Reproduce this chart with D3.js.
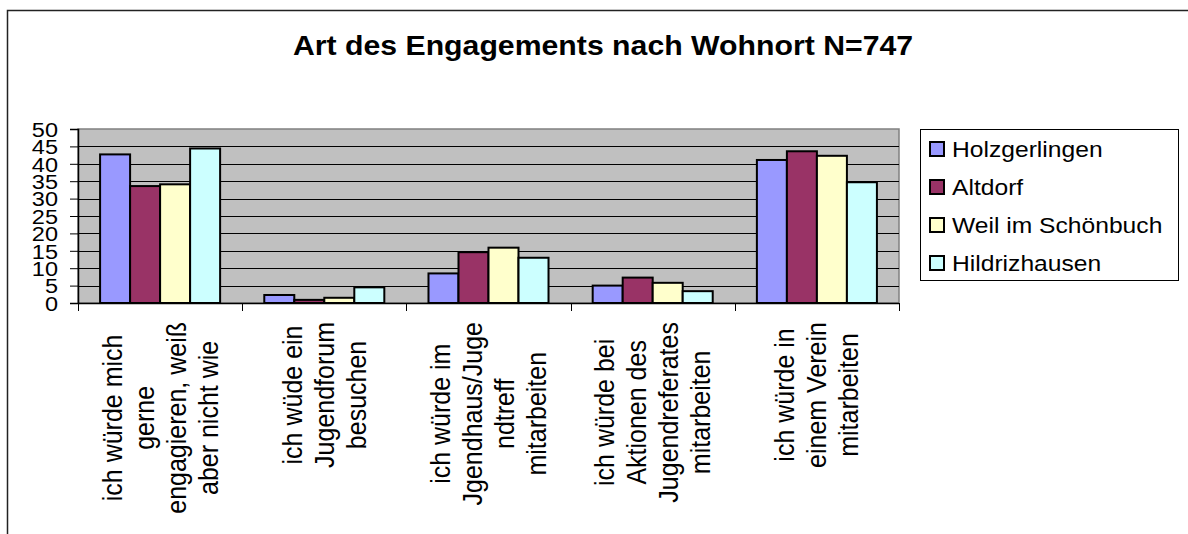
<!DOCTYPE html>
<html>
<head>
<meta charset="utf-8">
<style>
  body { margin: 0; background: #fff; }
  svg text { font-family: "Liberation Sans", Arial, sans-serif; fill: #000; }
</style>
</head>
<body>
<script src="https://d3js.org/d3.v7.min.js"></script>
<script>
  // chart data
  const categories = [
    ["ich würde mich", "gerne", "engagieren, weiß", "aber nicht wie"],
    ["ich wüde ein", "Jugendforum", "besuchen"],
    ["ich würde im", "Jgendhaus/Juge", "ndtreff", "mitarbeiten"],
    ["ich würde bei", "Aktionen des", "Jugendreferates", "mitarbeiten"],
    ["ich würde in", "einem Verein", "mitarbeiten"]
  ];
  const seriesNames = ["Holzgerlingen", "Altdorf", "Weil im Schönbuch", "Hildrizhausen"];
  const holzgerlingen = [42.7, 2.3, 8.5, 5.0, 41.1];
  const altdorf = [33.6, 0.9, 14.6, 7.3, 43.6];
  const weil = [34.1, 1.5, 15.9, 5.8, 42.3];
  const hildrizhausen = [44.4, 4.5, 13.0, 3.4, 34.7];
  const seriesColors = ["#9999ff", "#993366", "#ffffcc", "#ccffff"];
  const yTicks = [0, 5, 10, 15, 20, 25, 30, 35, 40, 45, 50];
  const title = "Art des Engagements nach Wohnort N=747";

  const values = [holzgerlingen, altdorf, weil, hildrizhausen];

  const w = 1188;
  const h = 534;
  const plot = { left: 78, right: 899, top: 129, bottom: 303 };
  const sx = 1.12; // text in the reference is a bit wider than it is tall

  const svg = d3.select("body")
    .append("svg")
    .attr("width", w)
    .attr("height", h);

  // outer chart frame (only top and left edges show)
  svg.append("path")
    .attr("d", "M7.5," + h + "V10.5H" + w)
    .attr("fill", "none")
    .attr("stroke", "#222")
    .attr("stroke-width", 1.5);

  svg.append("text")
    .attr("transform", "translate(603,55) scale(" + sx + ",1)")
    .attr("text-anchor", "middle")
    .style("font-size", "27px")
    .style("font-weight", "bold")
    .text(title);

  const catIdx = d3.range(categories.length);

  const x0 = d3.scaleBand()
    .domain(catIdx)
    .range([plot.left, plot.right])
    .paddingInner(0.269)
    .paddingOuter(0.1345);

  const x1 = d3.scaleBand()
    .domain(d3.range(seriesNames.length))
    .range([0, x0.bandwidth()]);

  const y = d3.scaleLinear()
    .domain([0, 50])
    .range([plot.bottom, plot.top]);

  // plot area
  svg.append("rect")
    .attr("x", plot.left)
    .attr("y", plot.top)
    .attr("width", plot.right - plot.left)
    .attr("height", plot.bottom - plot.top)
    .attr("fill", "#c0c0c0")
    .attr("stroke", "#808080")
    .attr("stroke-width", 1.5);

  svg.append("g")
    .selectAll("line")
    .data(yTicks.filter((d) => d > 0 && d < 50))
    .join("line")
    .attr("x1", plot.left)
    .attr("x2", plot.right)
    .attr("y1", (d) => Math.round(y(d)) + 0.5)
    .attr("y2", (d) => Math.round(y(d)) + 0.5)
    .attr("stroke", "#000");

  // bars
  svg.append("g")
    .selectAll("g")
    .data(values)
    .join("g")
    .attr("fill", (d, i) => seriesColors[i])
    .selectAll("rect")
    .data((d, i) => d.map((v, c) => ({ s: i, c: c, v: v })))
    .join("rect")
    .attr("x", (d) => x0(d.c) + x1(d.s))
    .attr("y", (d) => y(d.v))
    .attr("width", x1.bandwidth())
    .attr("height", (d) => y(0) - y(d.v))
    .attr("stroke", "#000")
    .attr("stroke-width", 2);

  // y axis
  const yAxis = d3.axisLeft(y)
    .tickValues(yTicks)
    .tickSize(8)
    .tickPadding(12);

  const ya = svg.append("g")
    .attr("transform", "translate(" + plot.left + ",0)")
    .call(yAxis);
  ya.select(".domain").attr("stroke", "#000").attr("stroke-width", 1.5);
  ya.selectAll(".tick line").attr("stroke", "#000");
  ya.selectAll(".tick text")
    .attr("x", null)
    .attr("dy", "0.35em")
    .attr("transform", "translate(-20,0) scale(" + sx + ",1)")
    .style("font-size", "21px")
    .style("font-family", "'Liberation Sans', Arial, sans-serif");

  // x axis: line plus ticks at category boundaries
  svg.append("line")
    .attr("x1", plot.left)
    .attr("x2", plot.right)
    .attr("y1", plot.bottom + 0.5)
    .attr("y2", plot.bottom + 0.5)
    .attr("stroke", "#000")
    .attr("stroke-width", 1.5);

  svg.append("g")
    .selectAll("line")
    .data(d3.range(categories.length + 1))
    .join("line")
    .attr("x1", (i) => Math.round(plot.left + i * x0.step()) + 0.5)
    .attr("x2", (i) => Math.round(plot.left + i * x0.step()) + 0.5)
    .attr("y1", plot.bottom)
    .attr("y2", plot.bottom + 8)
    .attr("stroke", "#000");

  // rotated category labels
  const lineStep = 32;
  catIdx.forEach((c) => {
    const lines = categories[c];
    const cx = x0(c) + x0.bandwidth() / 2;
    const g = svg.append("g");
    const texts = g.selectAll("text")
      .data(lines)
      .join("text")
      .attr("text-anchor", "middle")
      .attr("dominant-baseline", "central")
      .style("font-size", "25px")
      .text((d) => d);
    let maxLen = 0;
    texts.each(function () { maxLen = Math.max(maxLen, this.getComputedTextLength()); });
    const cy = 322 + maxLen / 2;
    texts.attr("transform", (d, j) =>
      "translate(" + (cx + (j - (lines.length - 1) / 2) * lineStep) + "," + cy + ") scale(" + sx + ",1) rotate(-90)");
  });

  // legend
  const legend = svg.append("g");
  legend.append("rect")
    .attr("x", 920.5)
    .attr("y", 129.5)
    .attr("width", 258)
    .attr("height", 151)
    .attr("fill", "#fff")
    .attr("stroke", "#000");

  const items = legend.selectAll("g.item")
    .data(seriesNames)
    .join("g")
    .attr("class", "item")
    .attr("transform", (d, i) => "translate(929," + (149 + i * 38) + ")");

  items.append("rect")
    .attr("x", 1)
    .attr("y", -7)
    .attr("width", 14)
    .attr("height", 14)
    .attr("fill", (d, i) => seriesColors[i])
    .attr("stroke", "#000")
    .attr("stroke-width", 2);

  items.append("text")
    .attr("transform", "translate(23,7.7) scale(" + sx + ",1)")
    .style("font-size", "22px")
    .text((d) => d);
</script>
</body>
</html>
